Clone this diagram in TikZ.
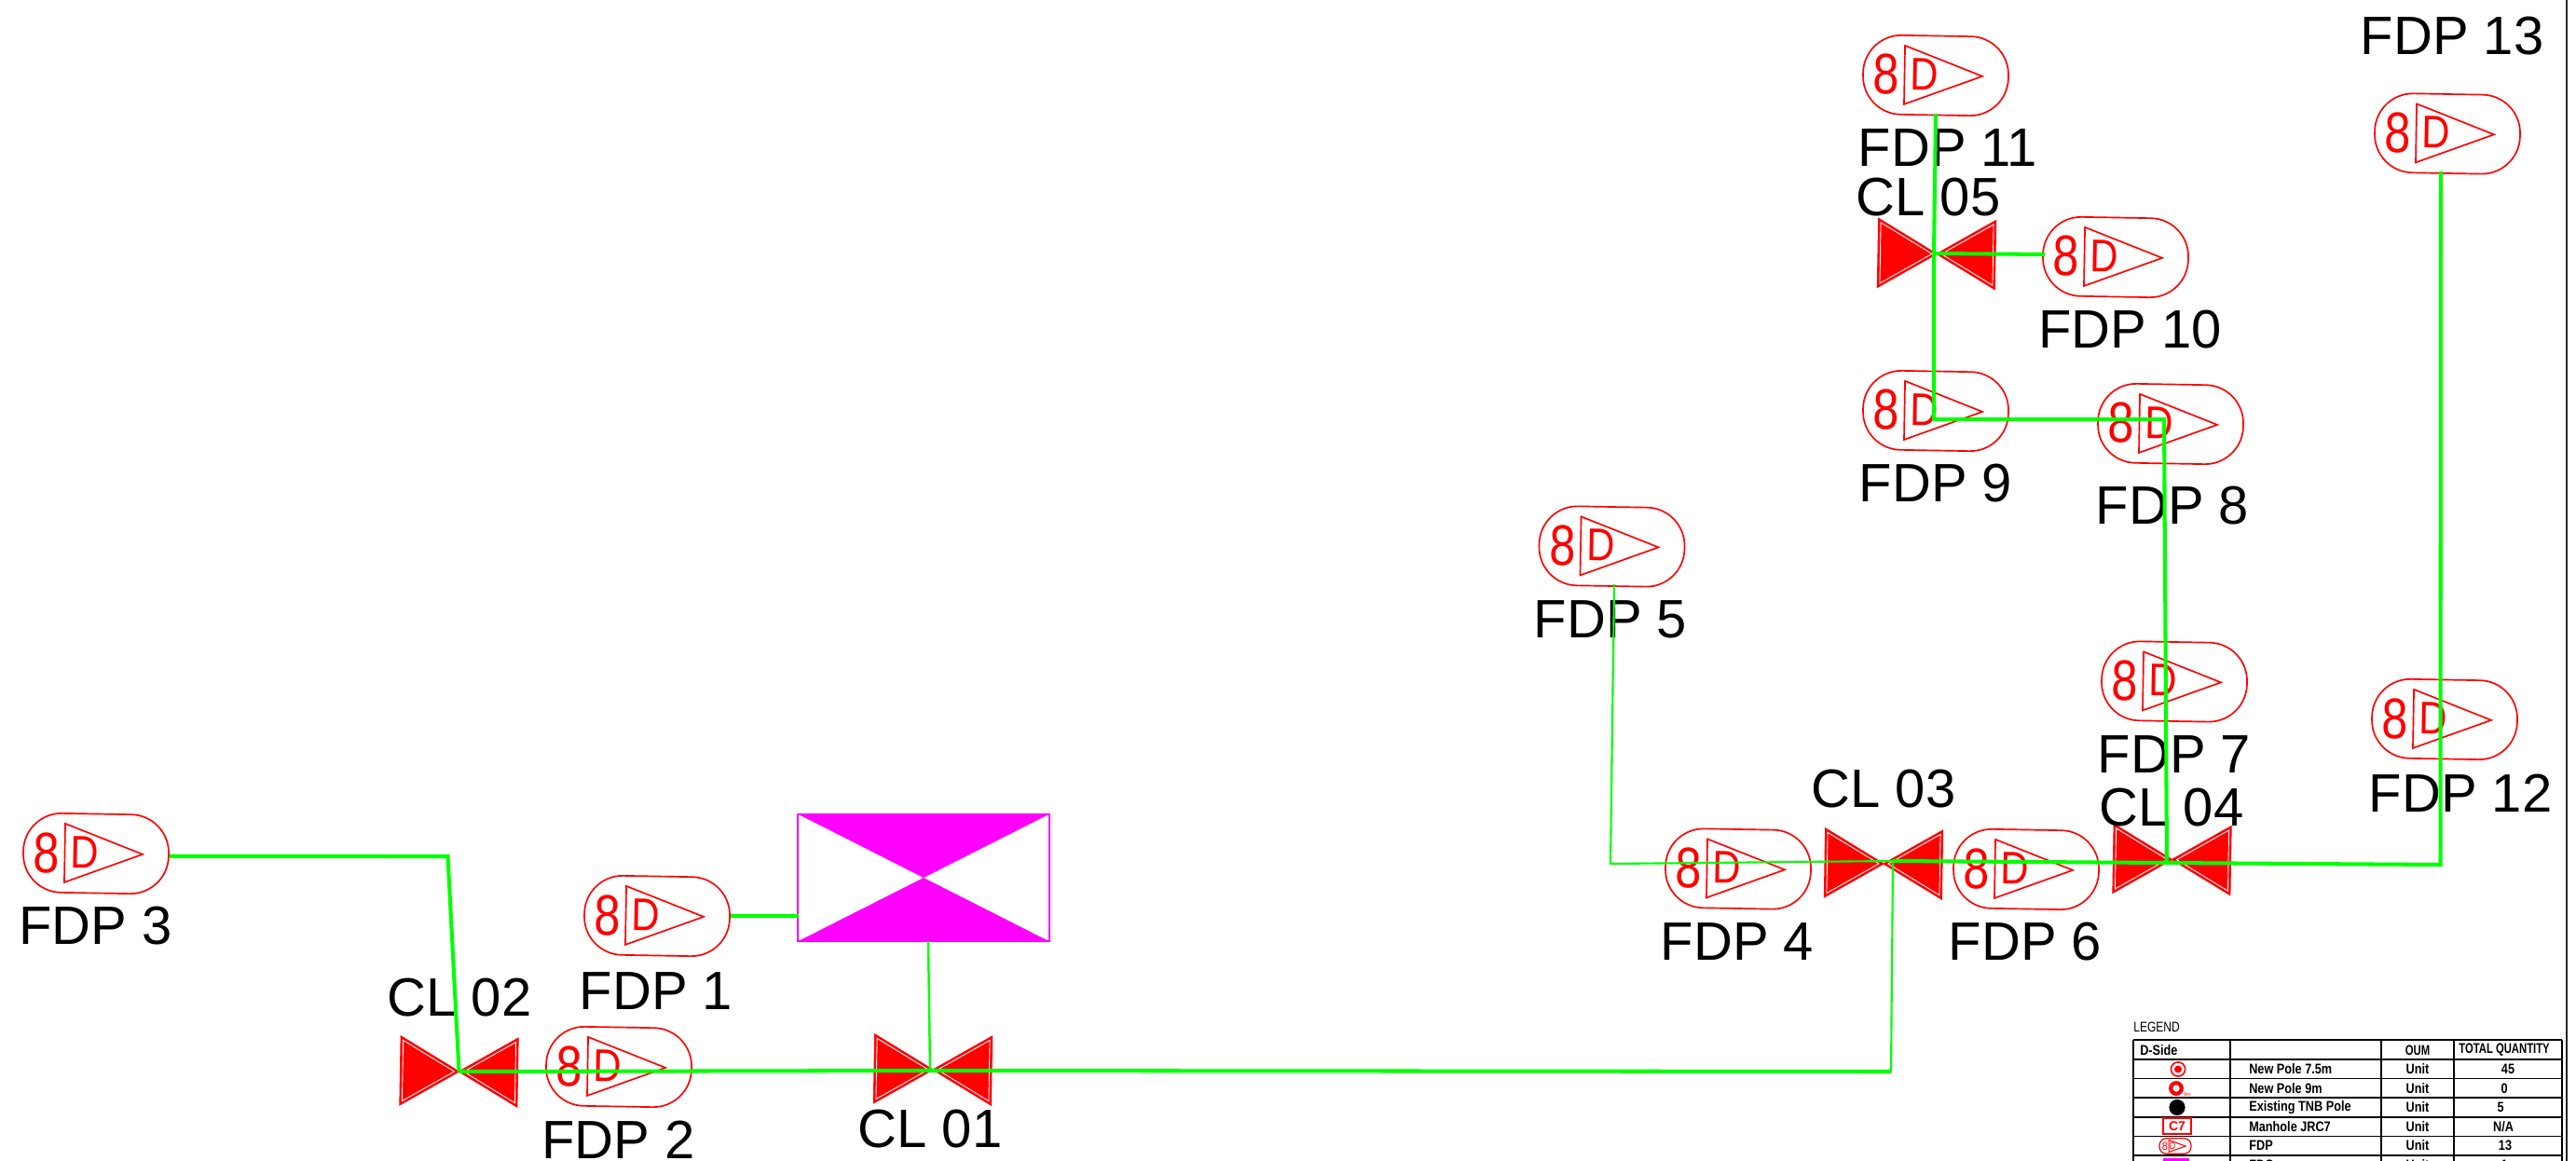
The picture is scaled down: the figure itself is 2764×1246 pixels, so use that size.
\documentclass[tikz,border=0pt]{standalone}
\usepackage{fontspec}
\setmainfont{Liberation Sans}

\definecolor{fdpred}{RGB}{255,0,0}
\definecolor{fdcpink}{RGB}{255,0,255}
\definecolor{cablegreen}{RGB}{0,255,0}

\tikzset{
	fdpbox/.style={draw=fdpred, line width=0.95pt, rounded corners=0.82cm, minimum width=3.12cm, minimum height=1.7cm, inner sep=0pt, transform shape},
	fdpmark/.style={text=fdpred, inner sep=0pt, transform shape},
	tag/.style={inner sep=0pt, font=\fontsize{33}{33}\selectfont},
	wire/.style={draw=cablegreen, line width=2.3pt},
	thinwire/.style={draw=cablegreen, line width=1.2pt},
	legrule/.style={draw=black, line width=1.1pt},
	legtext/.style={inner sep=0pt, transform shape, xscale=0.84, font=\bfseries\fontsize{8.6}{9}\selectfont},
	legcaps/.style={legtext, xscale=0.89},
	fdp/.pic={
		\begin{scope}[rotate=-1]
			\node[fdpbox] (-box) at (0,0) {};
			\draw[fdpred, line width=0.95pt] (-33.5,-31.5) -- (-33.5,31.5) -- (50,0) -- cycle;
			\node[fdpmark, font=\fontsize{35}{35}\selectfont, xscale=0.82] (-num) at (-53,0) {8};
			\node[fdpmark, font=\fontsize{28}{28}\selectfont, xscale=0.85] (-side) at (-12,-1) {D};
		\end{scope}
	},
	valve/.pic={
		\begin{scope}[rotate=-1]
			\filldraw[fdpred, line width=0.6pt] (-63,-37) -- (-63,37) -- (0,0) -- cycle;
			\filldraw[fdpred, line width=0.6pt] (63,-37) -- (63,37) -- (0,0) -- cycle;
			\draw[white, line width=0.5pt] (-60.5,-32.6) -- (-60.5,32.6) -- (-5,0) -- cycle;
			\draw[white, line width=0.5pt] (60.5,-32.6) -- (60.5,32.6) -- (5,0) -- cycle;
			\coordinate (-mid) at (0,0);
		\end{scope}
	},
}

\begin{document}
\begin{tikzpicture}[x=0.02cm, y=-0.02cm]
	\useasboundingbox (0,0) rectangle (2764,1246);
	\clip (0,0) rectangle (2764,1246);

	% distribution points
	\pic (fdp1) at (705,983) {fdp};
	\pic (fdp2) at (664,1145) {fdp};
	\pic (fdp3) at (103,916) {fdp};
	\pic (fdp4) at (1865,932.5) {fdp};
	\pic (fdp5) at (1729.5,586.5) {fdp};
	\pic (fdp6) at (2174,933) {fdp};
	\pic (fdp7) at (2333,731.5) {fdp};
	\pic (fdp8) at (2329,455) {fdp};
	\pic (fdp9) at (2077,441) {fdp};
	\pic (fdp10) at (2270,276) {fdp};
	\pic (fdp11) at (2077,81) {fdp};
	\pic (fdp12) at (2623,772) {fdp};
	\pic (fdp13) at (2626,143.5) {fdp};

	% closures
	\pic (cl01) at (1001,1148) {valve};
	\pic (cl02) at (492.5,1150) {valve};
	\pic (cl03) at (2021,927) {valve};
	\pic (cl04) at (2330.5,922.5) {valve};
	\pic (cl05) at (2078,272.5) {valve};

	% cabinet
	\node[draw=fdcpink, line width=0.85pt, minimum width=5.4cm, minimum height=2.72cm, inner sep=0pt] (fdc) at (991,942) {};
	\fill[fdcpink] (fdc.north west) -- (fdc.north east) -- (fdc.center) -- cycle;
	\fill[fdcpink] (fdc.south west) -- (fdc.south east) -- (fdc.center) -- cycle;

	% labels
	\node[tag] (tag1) at (704,1064) {FDP 1};
	\node[tag] (tag2) at (663.5,1223) {FDP 2};
	\node[tag] (tag3) at (102.5,994) {FDP 3};
	\node[tag] (tag4) at (1864,1011) {FDP 4};
	\node[tag] (tag5) at (1728,665) {FDP 5};
	\node[tag] (tag6) at (2173,1011) {FDP 6};
	\node[tag] (tag7) at (2333,810) {FDP 7};
	\node[tag] (tag8) at (2331,543) {FDP 8};
	\node[tag] (tag9) at (2077,519) {FDP 9};
	\node[tag] (tag10) at (2285.5,354) {FDP 10};
	\node[tag] (tag11) at (2090,159) {FDP 11};
	\node[tag] (tag12) at (2640,851) {FDP 12};
	\node[tag] (tag13) at (2631,39) {FDP 13};
	\node[tag] (tagcl1) at (998,1212) {CL 01};
	\node[tag] (tagcl2) at (493,1071) {CL 02};
	\node[tag] (tagcl3) at (2021,847) {CL 03};
	\node[tag] (tagcl4) at (2330,867) {CL 04};
	\node[tag] (tagcl5) at (2069,212) {CL 05};

	% free ends and bends of the cables
	\coordinate (bendA) at (480.5,919);
	\coordinate (jct1) at (998,1149);
	\coordinate (jct3) at (2031,924);
	\coordinate (jct4) at (2325,926);
	\coordinate (jct5) at (2075,272);
	\coordinate (jct9) at (2075,450);
	\coordinate (bendB) at (2029,1150);
	\coordinate (bendC) at (1728,927);
	\coordinate (bendD) at (2618.5,928);
	\coordinate (bendE) at (2322,450);
	\coordinate (fdcin) at (857,983);
	\coordinate (fdcout) at (996,1010);
	\coordinate (top13) at (2619,184);
	\coordinate (top11) at (2077,122);
	\coordinate (top5) at (1732,627);
	\coordinate (in10) at (2194,273);

	% cables
	\draw[wire] ([yshift=-0.03cm]fdp3-box.east) -- (bendA) -- (cl02-mid);
	\draw[wire] (cl02-mid) -- (jct1) -- (bendB);
	\draw[thinwire] (bendB) -- (jct3);
	\draw[thinwire] (top5) -- (bendC) -- (jct3);
	\draw[wire] (jct3) -- (jct4) -- (bendD) -- (top13);
	\draw[wire] (jct4) -- (bendE) -- (jct9) -- (jct5) -- (top11);
	\draw[wire] (jct5) -- (in10);
	\draw[wire] ([yshift=0.03cm]fdp1-box.east) -- (fdcin);
	\draw[thinwire, line width=1.4pt] (fdcout) -- (jct1);

	% sheet border
	\draw[black!85, line width=1.1pt] (2753.5,0) -- (2753.5,1246);

	% legend table
	\node[legtext, xscale=0.95, anchor=west, font=\fontsize{8.6}{9}\selectfont] (legtitle) at (2289,1102) {LEGEND};
	\draw[legrule] (2289,1116) -- (2749,1116);
	\draw[legrule] (2289,1137) -- (2749,1137);
	\draw[legrule] (2289,1157.5) -- (2749,1157.5);
	\draw[legrule] (2289,1178) -- (2749,1178);
	\draw[legrule] (2289,1199) -- (2749,1199);
	\draw[legrule] (2289,1219.5) -- (2749,1219.5);
	\draw[legrule] (2289,1240) -- (2749,1240);
	\draw[legrule] (2289,1116) -- (2289,1246);
	\draw[legrule] (2393,1116) -- (2393,1246);
	\draw[legrule] (2555,1116) -- (2555,1246);
	\draw[legrule] (2633,1116) -- (2633,1246);
	\draw[legrule] (2749,1116) -- (2749,1246);

	% legend header
	\node[legtext, anchor=west] (legside) at (2296,1127) {D-Side};
	\node[legcaps] (legoum) at (2594,1127) {OUM};
	\node[legcaps] (legtotal) at (2687,1127) {TOTAL QUANTITY};

	% legend rows
	\node[legtext, anchor=west] (legname1) at (2413,1147.5) {New Pole 7.5m};
	\node[legtext, anchor=west] (legname2) at (2413,1168) {New Pole 9m};
	\node[legtext, anchor=west] (legname3) at (2413,1188.5) {Existing TNB Pole};
	\node[legtext, anchor=west] (legname4) at (2413,1209) {Manhole JRC7};
	\node[legtext, anchor=west] (legname5) at (2413,1229.5) {FDP};
	\node[legtext, anchor=west] (legname6) at (2413,1250) {FDC};
	\node[legtext] (legunit1) at (2594,1147.5) {Unit};
	\node[legtext] (legunit2) at (2594,1168) {Unit};
	\node[legtext] (legunit3) at (2594,1188.5) {Unit};
	\node[legtext] (legunit4) at (2594,1209) {Unit};
	\node[legtext] (legunit5) at (2594,1229.5) {Unit};
	\node[legtext] (legunit6) at (2594,1250) {Unit};
	\node[legtext] (legqty1) at (2691,1147.5) {45};
	\node[legtext] (legqty2) at (2687,1168) {0};
	\node[legtext] (legqty3) at (2683,1188.5) {5};
	\node[legtext] (legqty4) at (2686,1209) {N/A};
	\node[legtext] (legqty5) at (2688,1229.5) {13};
	\node[legtext] (legqty6) at (2687,1250) {1};

	% legend symbols
	\draw[fdpred, line width=0.9pt] (2337,1147.5) circle[radius=7.6];
	\fill[fdpred] (2337,1147.5) circle[radius=4];
	\draw[fdpred, line width=2.4pt] (2335,1168) circle[radius=5.8];
	\node[text=fdpred, inner sep=0pt, font=\fontsize{3}{3}\selectfont] (legnine) at (2347,1174.5) {9m};
	\fill[black] (2336,1188.5) circle[radius=8.6];
	\node[draw=fdpred, line width=1.3pt, minimum width=0.6cm, minimum height=0.34cm, inner sep=0pt, text=fdpred, font=\bfseries\fontsize{8}{8}\selectfont] (legmanhole) at (2336,1208.5) {C7};
	\node[draw=fdpred, line width=0.7pt, rounded corners=0.15cm, minimum width=0.68cm, minimum height=0.33cm, inner sep=0pt] (legfdp) at (2334,1230) {};
	\draw[fdpred, line width=0.6pt] (2327,1223.5) -- (2327,1236.5) -- (2345,1230) -- cycle;
	\node[fdpmark, font=\fontsize{7}{7}\selectfont, xscale=0.9] (legeight) at (2323,1230) {8};
	\node[fdpmark, font=\fontsize{6}{6}\selectfont, xscale=0.85] (legside2) at (2331,1230) {D};
	\node[fill=fdcpink, minimum width=0.56cm, minimum height=0.3cm, inner sep=0pt] (legfdc) at (2335,1250) {};
\end{tikzpicture}
\end{document}
